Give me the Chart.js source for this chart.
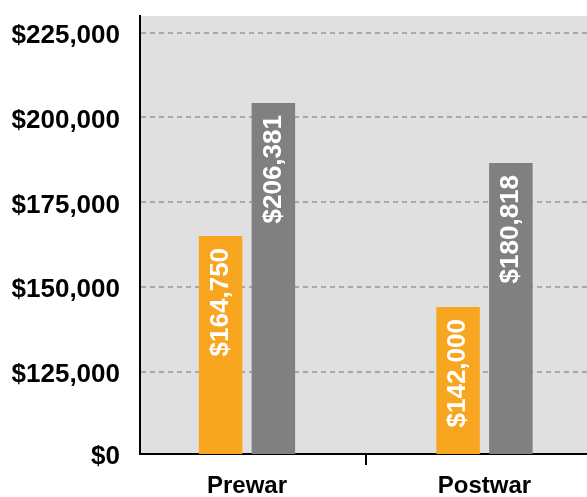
<!DOCTYPE html>
<html>
<head>
<meta charset="utf-8">
<script src="https://cdn.jsdelivr.net/npm/chart.js@4.4.0/dist/chart.umd.min.js"></script>
<style>
  html, body { margin: 0; padding: 0; background: #fff; }
  #wrap { width: 587px; height: 497px; }
</style>
</head>
<body>
<div id="wrap"><canvas id="chart"></canvas></div>
<script>
// =========================
// Data
// =========================
const categories = ["Prewar", "Postwar"];
const orangeValues = [165100, 144150];
const greyValues = [204250, 186600];
const orangeLabels = ["$164,750", "$142,000"];
const greyLabels = ["$206,381", "$180,818"];

// broken axis: the bottom of the scale is shown as $0
const yMin = 100850;
const yMax = 229900;
const yTicks = [125000, 150000, 175000, 200000, 225000];

const ORANGE = "#f8a51f";
const GREY = "#808080";
const FONT = "'Liberation Sans', Arial, sans-serif";

// fond gris de la zone du graphique
const plotBackground = {
    id: "plotBackground",
    beforeDraw(chart) {
        const { ctx, chartArea: a } = chart;
        ctx.save();
        ctx.fillStyle = "#e0e0e0";
        ctx.fillRect(a.left, a.top, a.right - a.left, a.bottom - a.top);
        ctx.restore();
    }
};

// valeurs écrites verticalement dans les barres
const barLabels = {
    id: "barLabels",
    afterDatasetsDraw(chart) {
        const ctx = chart.ctx;
        const texts = [orangeLabels, greyLabels];
        chart.data.datasets.forEach((ds, di) => {
            chart.getDatasetMeta(di).data.forEach((bar, i) => {
                ctx.save();
                ctx.translate(bar.x, bar.y + 12);
                ctx.rotate(-Math.PI / 2);
                ctx.font = "bold 26px " + FONT;
                ctx.fillStyle = "#fff";
                ctx.textAlign = "right";
                ctx.textBaseline = "middle";
                ctx.fillText(texts[di][i], 0, 0);
                ctx.restore();
            });
        });
    }
};

new Chart(document.getElementById("chart"), {
    type: "bar",
    data: {
        datasets: [
            {
                label: "Orange",
                data: orangeValues.map((v, i) => ({ x: i, y: v })),
                backgroundColor: ORANGE
            },
            {
                label: "Grey",
                data: greyValues.map((v, i) => ({ x: i, y: v })),
                backgroundColor: GREY
            }
        ]
    },
    options: {
        responsive: true,
        maintainAspectRatio: false,
        animation: false,
        categoryPercentage: 0.889,
        barPercentage: 0.824,
        layout: { padding: { top: 16, right: 0, bottom: 0, left: 0 } },
        plugins: { legend: { display: false }, tooltip: { enabled: false } },
        scales: {
            x: {
                type: "linear",
                min: -0.4505,
                max: 1.4316,
                offset: false,
                afterBuildTicks: s => { s.ticks = [0, 0.5, 1].map(v => ({ value: v })); },
                afterFit: s => { s.height = 43; s.paddingLeft = 0; s.paddingRight = 0; },
                border: { color: "#000", width: 2 },
                grid: {
                    offset: false,
                    drawOnChartArea: false,
                    tickLength: 11,
                    lineWidth: 2,
                    color: c => (c.tick && c.tick.value === 0.5 ? "#000" : "rgba(0,0,0,0)")
                },
                ticks: {
                    padding: 7,
                    maxRotation: 0,
                    autoSkip: false,
                    color: "#000",
                    font: { family: FONT, size: 24, weight: "bold" },
                    callback: v => (Number.isInteger(v) ? categories[v] : "")
                }
            },
            y: {
                min: yMin,
                max: yMax,
                afterBuildTicks: s => { s.ticks = [yMin, ...yTicks].map(v => ({ value: v })); },
                afterFit: s => { s.width = 140; s.paddingTop = 0; s.paddingBottom = 0; },
                border: { color: "#000", width: 2, dash: [5, 4] },
                grid: {
                    drawTicks: false,
                    lineWidth: 2,
                    color: c => (c.tick && c.tick.value === yMin ? "rgba(0,0,0,0)" : "#a8a8a8")
                },
                ticks: {
                    padding: 20,
                    labelOffset: 3,
                    color: "#000",
                    font: { family: FONT, size: 26, weight: "bold" },
                    callback: v => (v === yMin ? "$0" : "$" + v.toLocaleString("en-US"))
                }
            }
        }
    },
    plugins: [plotBackground, barLabels]
});
</script>
</body>
</html>
